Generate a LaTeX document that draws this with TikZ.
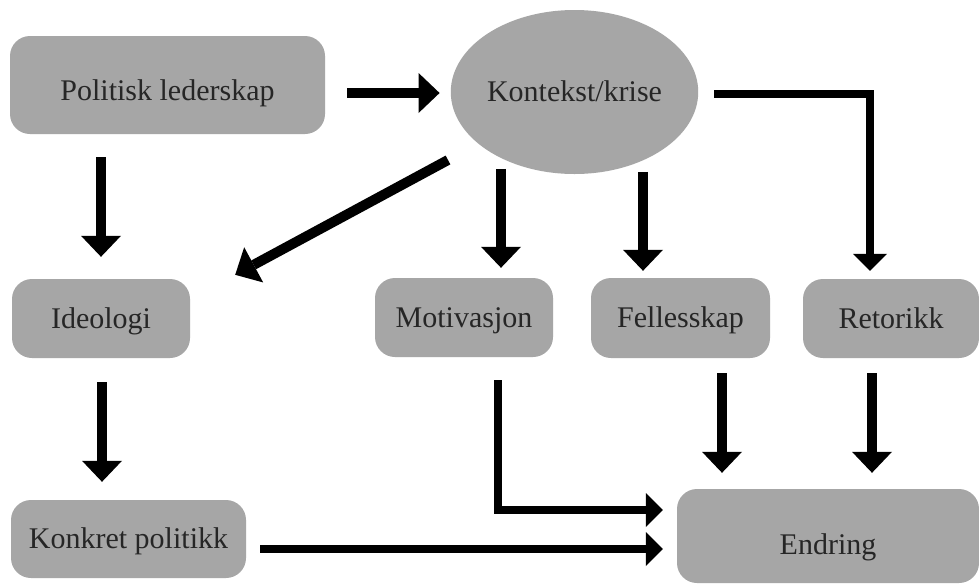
\documentclass[tikz,border=0pt]{standalone}
\usepackage{fontspec}
\setmainfont{Liberation Serif}
\usetikzlibrary{arrows.meta,calc,shapes.geometric}
\definecolor{boxgray}{RGB}{166,166,166}
\definecolor{txtgray}{RGB}{38,38,38}
\begin{document}
\begin{tikzpicture}[x=1pt,y=-1pt,
  every node/.style={font=\fontsize{30}{36}\selectfont, text=txtgray},
  box/.style={draw=none, fill=boxgray, rounded corners=20pt, text height=22pt, text depth=2.5pt, inner sep=0pt},
  oval/.style={ellipse, draw=none, fill=boxgray, text height=22pt, text depth=2.5pt, inner sep=0pt},
  arrA/.style={line width=10pt, -{Triangle[width=40pt,length=21pt,line width=0pt]}},
  arrB/.style={line width=8pt, -{Triangle[width=34pt,length=17pt,line width=0pt]}},
]
\clip (0,0) rectangle (979,584);
\fill[white] (0,0) rectangle (979,584);

\node[box, minimum width=315pt, minimum height=98pt, text height=34pt] (pol) at (167.5,85) {Politisk lederskap};
\node[oval, minimum width=235pt, minimum height=164pt] (kon) at (574.5,92) {Kontekst/krise};
\node[box, minimum width=178pt, minimum height=79pt] (ide) at (101,318.5) {Ideologi};
\node[box, minimum width=178pt, minimum height=79pt] (mot) at (464,317.5) {Motivasjon};
\node[box, minimum width=179pt, minimum height=80pt] (fel) at (680.5,318) {Fellesskap};
\node[box, minimum width=176pt, minimum height=79pt] (ret) at (891,318.5) {Retorikk};
\node[box, minimum width=235pt, minimum height=78pt] (kp) at (128.5,539) {Konkret politikk};
\node[box, minimum width=302pt, minimum height=94pt, text height=40pt] (end) at (828,536) {Endring};

\draw[arrA] ($(pol.east |- kon.center)+(22,1)$) -- ($(kon.west)+(-11,1)$);
\draw[arrA] ($(ide.north |- pol.south)+(0,23)$) -- ($(ide.north)+(0,-22)$);
\draw[arrA] ($(kon.center)+(-126.5,68)$) -- ($(ide.north east)+(45,-4)$);
\draw[arrA] ($(mot.north)+(37,-109)$) -- ($(mot.north)+(37,-10)$);
\draw[arrA] ($(fel.north)+(-37.5,-106)$) -- ($(fel.north)+(-37.5,-7)$);
\draw[arrB] ($(kon.east)+(16,2)$) -| ($(ret.north)+(-21,-8)$);
\draw[arrA] ($(ide.south)+(1,24)$) -- ($(kp.north)+(-26.5,-18)$);
\draw[arrB] ($(mot.south)+(34,23)$) |- ($(end.west)+(-14,-26)$);
\draw[arrB] ($(kp.east)+(14,10)$) -- ($(end.west)+(-14,13)$);
\draw[arrA] ($(fel.south)+(41.5,15)$) -- ($(end.north)+(-106,-16)$);
\draw[arrA] ($(ret.south)+(-19,15)$) -- ($(end.north)+(44,-16)$);
\end{tikzpicture}
\end{document}
